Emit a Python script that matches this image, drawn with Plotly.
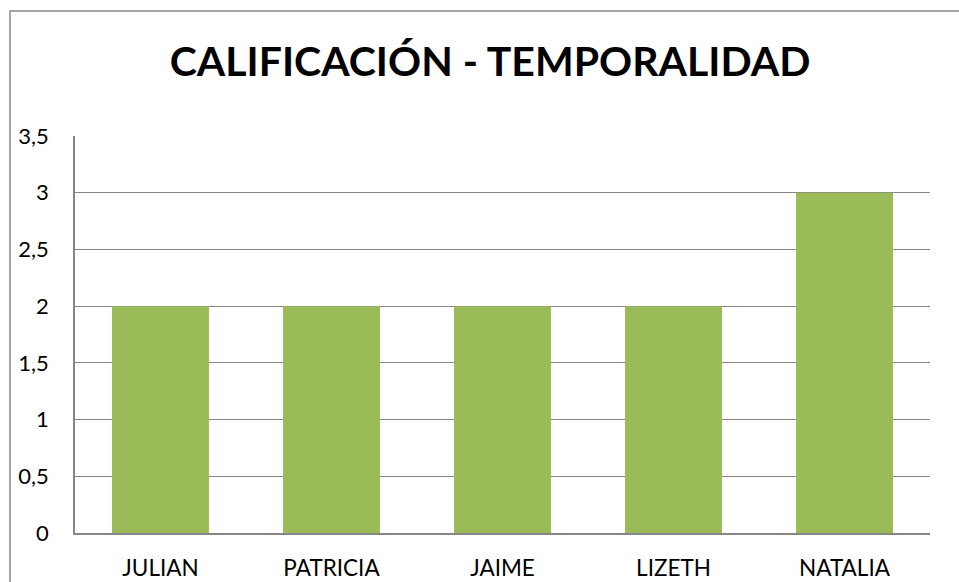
import plotly.graph_objects as go

categories = ["JULIAN", "PATRICIA", "JAIME", "LIZETH", "NATALIA"]
values = [2, 2, 2, 2, 3]
tick_vals = [0, 0.5, 1, 1.5, 2, 2.5, 3, 3.5]

W, H = 959, 582
L, R, T, B = 75, 29, 136, 49
pw, ph = W - L - R, H - T - B

fig = go.Figure(go.Bar(x=categories, y=values, marker=dict(color="#9BBB59", line=dict(width=0))))

FONT = "Lato"
fig.update_layout(
    width=W, height=H,
    margin=dict(l=L, r=R, t=T, b=B, pad=0),
    paper_bgcolor="white", plot_bgcolor="white",
    separators=",.",
    bargap=0.433,
    showlegend=False,
    font=dict(family=FONT, color="black", size=22),
    title=dict(text="<b>CALIFICACIÓN - TEMPORALIDAD</b>", x=490 / W, xanchor="center",
               y=1 - 62 / H, yanchor="middle",
               font=dict(family=FONT, size=41, color="black")),
    xaxis=dict(showgrid=False, showline=True, linecolor="#868686", linewidth=1.5,
               ticks="", tickfont=dict(size=22.5), ticklabelstandoff=14, automargin=False),
    yaxis=dict(range=[0, 3.5], tickvals=tick_vals, showgrid=True, gridcolor="#868686",
               gridwidth=1.2, showline=True, linecolor="#868686", linewidth=1.5,
               ticks="", zeroline=False, tickfont=dict(size=22), ticklabelstandoff=20,
               automargin=False),
    shapes=[dict(type="rect", xref="paper", yref="paper",
                 x0=(10 - L) / pw, x1=(W + 40 - L) / pw,
                 y0=-(B + 40) / ph, y1=(H - B - 11) / ph,
                 line=dict(color="#868686", width=1.5), fillcolor="rgba(0,0,0,0)", layer="below")],
)

fig.write_html(
    "out.html",
    config={"displayModeBar": False},
    post_script="document.body.style.margin='0';document.body.style.overflow='hidden';",
)
